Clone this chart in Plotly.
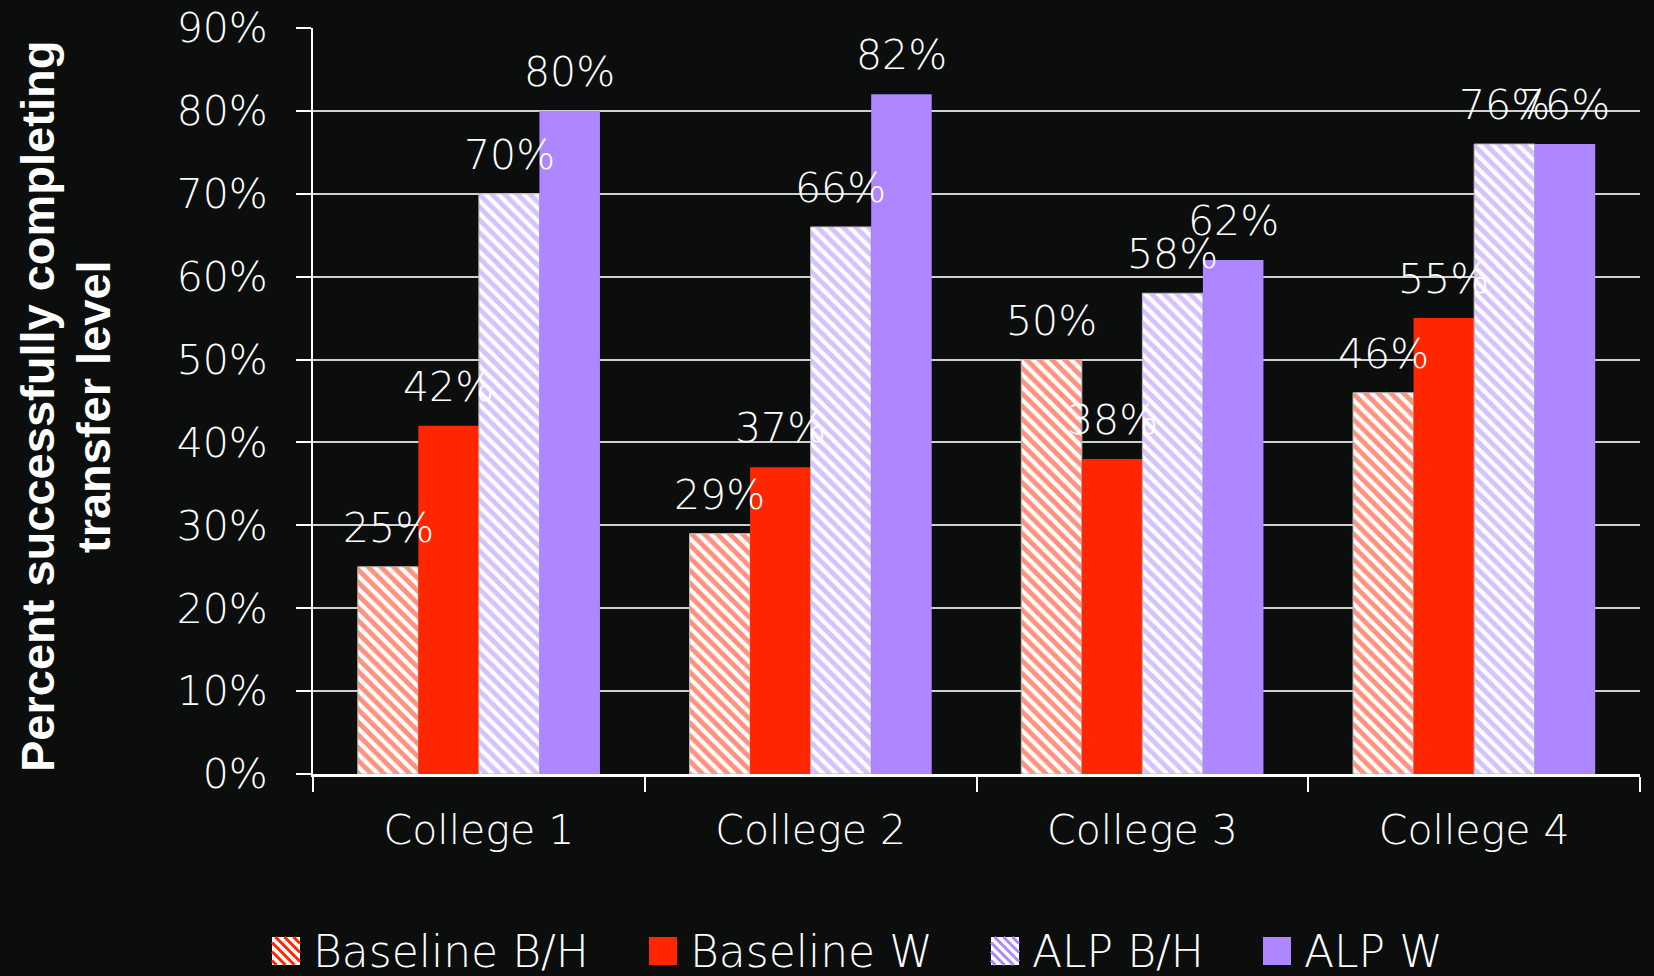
import plotly.graph_objects as go

categories = ["College 1", "College 2", "College 3", "College 4"]
series_names = ["Baseline B/H", "Baseline W", "ALP B/H", "ALP W"]
baseline_bh = [25, 29, 50, 46]
baseline_w = [42, 37, 38, 55]
alp_bh = [70, 66, 58, 76]
alp_w = [80, 82, 62, 76]
y_ticks = [0, 10, 20, 30, 40, 50, 60, 70, 80, 90]

RED = "#ff2600"
PURPLE = "#ae86ff"
BG = "#0c0e0d"
FONT = "DejaVu Sans"
BARGAP = 0.27

# plot area in pixels (layout)
W, H = 1654, 976
ML, MR, MT, MB = 313, 14, 28, 202
PW, PH = W - ML - MR, H - MT - MB


def px_x(p):
    return (p - ML) / PW


def px_y(p):
    return (H - MB - p) / PH


hatched = [True, False, True, False]
colors = [RED, RED, PURPLE, PURPLE]
all_series = [baseline_bh, baseline_w, alp_bh, alp_w]

fig = go.Figure()
for name, vals, col, hat in zip(series_names, all_series, colors, hatched):
    if hat:
        marker = dict(color="white",
                      pattern=dict(shape="\\", fgcolor=col, bgcolor="white", size=9, solidity=0.55),
                      line=dict(width=1, color="#b8b8b8"))
    else:
        marker = dict(color=col, line=dict(width=0))
    fig.add_trace(go.Bar(x=categories, y=vals, name=name, marker=marker,
                         cliponaxis=False, showlegend=False))

# data labels above each bar (positions derived from the group layout)
n = len(all_series)
w = (1 - BARGAP) / n
for j, vals in enumerate(all_series):
    for i, v in enumerate(vals):
        fig.add_annotation(
            x=i + (j - (n - 1) / 2) * w, y=v, xref="x", yref="y",
            text=f"{v}%", showarrow=False, yanchor="bottom", xanchor="center",
            yshift=13, font=dict(size=41, color="white", family=FONT, weight=300),
        )

# legend drawn manually with large swatches
legend_sym_x = [272, 649, 991, 1263]
SW = 28
LEG_CY = 951
shapes = []
for sx, col, hat, name in zip(legend_sym_x, colors, hatched, series_names):
    x0, x1 = sx, sx + SW
    y0, y1 = LEG_CY - SW / 2, LEG_CY + SW / 2
    shapes.append(dict(type="rect", xref="paper", yref="paper",
                       x0=px_x(x0), x1=px_x(x1), y0=px_y(y1), y1=px_y(y0),
                       fillcolor="white" if hat else col, line=dict(width=0), layer="above"))
    if hat:
        step = 9
        c = -SW + step / 2
        while c < SW:
            xa = max(0, c)
            xb = min(SW, SW + c)
            if xb > xa:
                shapes.append(dict(type="line", xref="paper", yref="paper",
                                   x0=px_x(x0 + xa), y0=px_y(y0 + xa - c),
                                   x1=px_x(x0 + xb), y1=px_y(y0 + xb - c),
                                   line=dict(color=col, width=3), layer="above"))
            c += step
    fig.add_annotation(text=name, xref="paper", yref="paper",
                       x=px_x(sx + SW + 11), y=px_y(LEG_CY), xanchor="left", yanchor="middle",
                       showarrow=False, font=dict(size=44, color="white", family=FONT, weight=300))

fig.update_layout(
    width=W, height=H,
    paper_bgcolor=BG, plot_bgcolor=BG,
    margin=dict(l=ML, r=MR, t=MT, b=MB, autoexpand=False),
    barmode="group", bargap=BARGAP, bargroupgap=0,
    font=dict(family=FONT, color="white"),
    showlegend=False,
    shapes=shapes,
)
fig.update_yaxes(range=[0, 90], tickvals=y_ticks, ticktext=[f"{t}%" for t in y_ticks],
                 showgrid=True, gridcolor="#d0d0d0", gridwidth=2,
                 showline=True, linecolor="white", linewidth=2,
                 ticks="outside", ticklen=15, tickcolor="white", tickwidth=2,
                 tickfont=dict(size=41, color="white", family=FONT, weight=300), ticklabelstandoff=20,
                 zeroline=False)
fig.update_xaxes(showline=True, linecolor="white", linewidth=3,
                 ticks="outside", ticklen=15, tickcolor="white", tickwidth=2,
                 tickson="boundaries",
                 tickfont=dict(size=41, color="white", family=FONT, weight=300), ticklabelstandoff=18)

TITLE_FONT = dict(size=47, color="white", family="Liberation Sans", weight="bold")
fig.add_annotation(text="Percent successfully completing", textangle=-90,
                   xref="paper", yref="paper", x=px_x(37), y=px_y(407),
                   xanchor="center", yanchor="middle", showarrow=False, font=TITLE_FONT)
fig.add_annotation(text="transfer level", textangle=-90,
                   xref="paper", yref="paper", x=px_x(93), y=px_y(407),
                   xanchor="center", yanchor="middle", showarrow=False, font=TITLE_FONT)

fig.write_html("out.html")
